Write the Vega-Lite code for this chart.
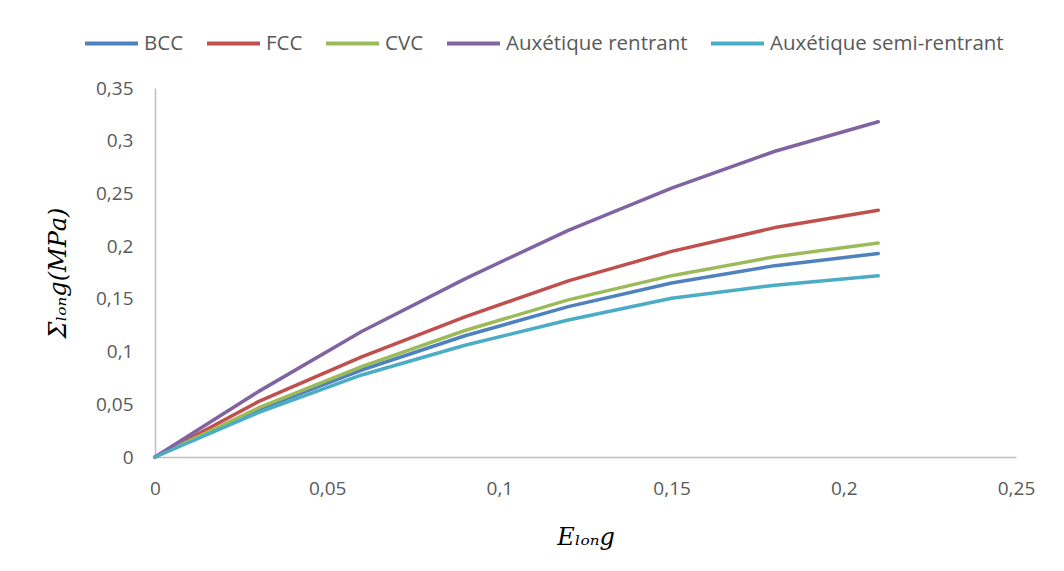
{
  "$schema": "https://vega.github.io/schema/vega-lite/v6.json",
  "width": 861,
  "height": 369,
  "autosize": {"type": "none"},
  "padding": {"left": 155, "top": 88, "right": 48, "bottom": 114},
  "background": "white",
  "config": {
    "locale": {"number": {"decimal": ",", "thousands": " ", "grouping": [3], "currency": ["", " €"]}},
    "view": {"stroke": null},
    "font": "Open Sans"
  },
  "data": {
    "values": [
      {"x": 0, "s": "BCC", "y": 0},
      {"x": 0.03, "s": "BCC", "y": 0.045},
      {"x": 0.06, "s": "BCC", "y": 0.0825},
      {"x": 0.09, "s": "BCC", "y": 0.115},
      {"x": 0.12, "s": "BCC", "y": 0.1426},
      {"x": 0.15, "s": "BCC", "y": 0.165},
      {"x": 0.18, "s": "BCC", "y": 0.1815},
      {"x": 0.21, "s": "BCC", "y": 0.193},
      {"x": 0, "s": "FCC", "y": 0},
      {"x": 0.03, "s": "FCC", "y": 0.0525},
      {"x": 0.06, "s": "FCC", "y": 0.095},
      {"x": 0.09, "s": "FCC", "y": 0.133},
      {"x": 0.12, "s": "FCC", "y": 0.167},
      {"x": 0.15, "s": "FCC", "y": 0.195},
      {"x": 0.18, "s": "FCC", "y": 0.2176},
      {"x": 0.21, "s": "FCC", "y": 0.234},
      {"x": 0, "s": "CVC", "y": 0},
      {"x": 0.03, "s": "CVC", "y": 0.0465},
      {"x": 0.06, "s": "CVC", "y": 0.0857},
      {"x": 0.09, "s": "CVC", "y": 0.12},
      {"x": 0.12, "s": "CVC", "y": 0.149},
      {"x": 0.15, "s": "CVC", "y": 0.172},
      {"x": 0.18, "s": "CVC", "y": 0.19},
      {"x": 0.21, "s": "CVC", "y": 0.203},
      {"x": 0, "s": "Auxétique rentrant", "y": 0},
      {"x": 0.03, "s": "Auxétique rentrant", "y": 0.062},
      {"x": 0.06, "s": "Auxétique rentrant", "y": 0.119},
      {"x": 0.09, "s": "Auxétique rentrant", "y": 0.169},
      {"x": 0.12, "s": "Auxétique rentrant", "y": 0.215},
      {"x": 0.15, "s": "Auxétique rentrant", "y": 0.255},
      {"x": 0.18, "s": "Auxétique rentrant", "y": 0.29},
      {"x": 0.21, "s": "Auxétique rentrant", "y": 0.318},
      {"x": 0, "s": "Auxétique semi-rentrant", "y": 0},
      {"x": 0.03, "s": "Auxétique semi-rentrant", "y": 0.042},
      {"x": 0.06, "s": "Auxétique semi-rentrant", "y": 0.0778},
      {"x": 0.09, "s": "Auxétique semi-rentrant", "y": 0.106},
      {"x": 0.12, "s": "Auxétique semi-rentrant", "y": 0.13},
      {"x": 0.15, "s": "Auxétique semi-rentrant", "y": 0.1505},
      {"x": 0.18, "s": "Auxétique semi-rentrant", "y": 0.163},
      {"x": 0.21, "s": "Auxétique semi-rentrant", "y": 0.172}
    ]
  },
  "mark": {"type": "line", "strokeWidth": 3.5, "interpolate": "linear", "strokeCap": "round", "strokeJoin": "round"},
  "encoding": {
    "x": {
      "field": "x", "type": "quantitative",
      "scale": {"domain": [0, 0.25], "nice": false},
      "axis": {
        "values": [0, 0.05, 0.1, 0.15, 0.2, 0.25],
        "format": ".2~f",
        "grid": false, "ticks": false,
        "domainColor": "#BFBFBF", "domainWidth": 1.5,
        "labelColor": "#595959", "labelFont": "Open Sans", "labelFontSize": 19,
        "labelPadding": 22, "labelFlush": false,
        "title": "Eₗₒₙ𝑔",
        "titleFont": "DejaVu Serif", "titleFontStyle": "italic", "titleFontWeight": "normal",
        "titleFontSize": 24, "titleColor": "#000000", "titlePadding": 27
      }
    },
    "y": {
      "field": "y", "type": "quantitative",
      "scale": {"domain": [0, 0.35], "nice": false},
      "axis": {
        "values": [0, 0.05, 0.1, 0.15, 0.2, 0.25, 0.3, 0.35],
        "format": ".2~f",
        "grid": false, "ticks": false,
        "domainColor": "#BFBFBF", "domainWidth": 1.5,
        "labelColor": "#595959", "labelFont": "Open Sans", "labelFontSize": 19,
        "labelPadding": 22,
        "title": "Σₗₒₙ𝑔(𝑀𝑃𝑎)",
        "titleFont": "DejaVu Serif", "titleFontStyle": "italic", "titleFontWeight": "normal",
        "titleFontSize": 24, "titleColor": "#000000", "titlePadding": 25
      }
    },
    "color": {
      "field": "s", "type": "nominal",
      "scale": {
        "domain": ["BCC", "FCC", "CVC", "Auxétique rentrant", "Auxétique semi-rentrant"],
        "range": ["#4F81BD", "#C0504D", "#9BBB59", "#8064A2", "#4BACC6"]
      },
      "legend": {
        "title": null,
        "orient": "none",
        "direction": "horizontal",
        "columns": 5,
        "legendX": -72,
        "legendY": -73,
        "symbolType": "stroke",
        "symbolSize": 2809,
        "symbolStrokeWidth": 4,
        "labelFont": "Open Sans",
        "labelFontSize": 20.5,
        "labelColor": "#595959",
        "labelOffset": 4,
        "columnPadding": 15,
        "labelLimit": 400
      }
    }
  }
}
